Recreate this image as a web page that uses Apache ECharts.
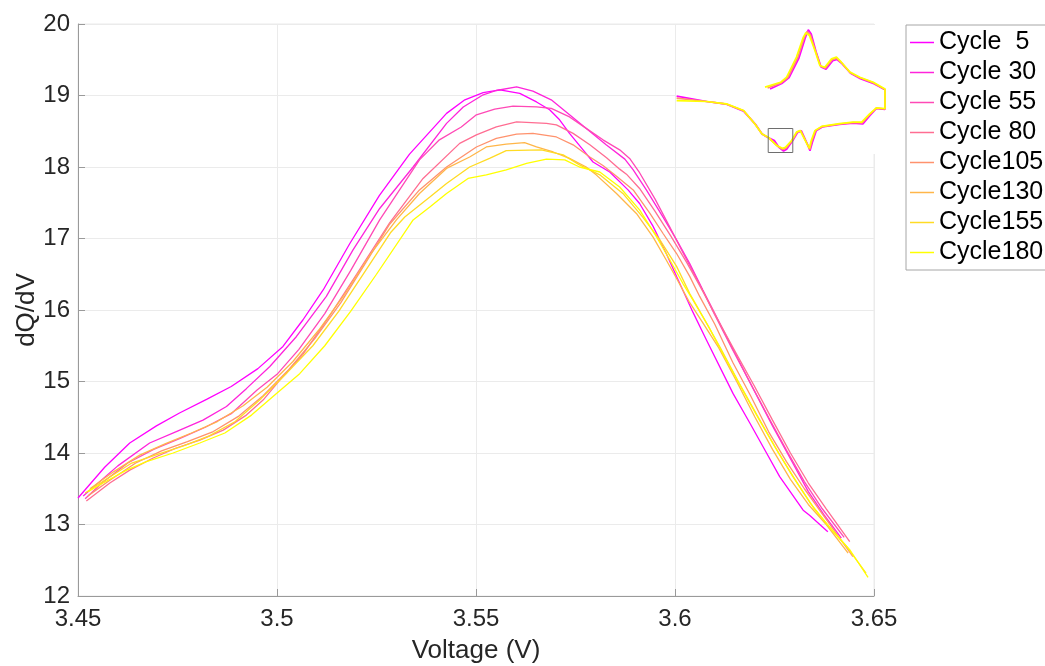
<!DOCTYPE html>
<html>
<head>
<meta charset="utf-8">
<script src="https://cdn.jsdelivr.net/npm/echarts@6/dist/echarts.min.js"></script>
<style>
  html, body { margin: 0; padding: 0; background: #fff; }
  #chart { width: 1045px; height: 666px; }
</style>
</head>
<body>
<div id="chart"></div>
<script>
// Axis ranges of the zoomed discharge-peak view
const voltageRange = [3.45, 3.65];
const dqdvRange = [12, 20];

// Legend labels and line colours (cycle number order)
const cycleNames = ['Cycle  5', 'Cycle 30', 'Cycle 55', 'Cycle 80', 'Cycle105', 'Cycle130', 'Cycle155', 'Cycle180'];
const cycleColors = ['#ff00ff', '#ff24db', '#ff49b6', '#ff6d92', '#ff926d', '#ffb649', '#ffdb24', '#ffff00'];

// Discharge dQ/dV around the main peak, [voltage, dQ/dV]
const cycle5 = [[3.450,13.37],[3.4567,13.80],[3.463,14.14],[3.4697,14.38],[3.4755,14.56],[3.4823,14.75],[3.4885,14.93],[3.4952,15.18],[3.5015,15.49],[3.5065,15.86],[3.5116,16.28],[3.5183,16.93],[3.5257,17.60],[3.5333,18.18],[3.5426,18.75],[3.5472,18.94],[3.5518,19.04],[3.556,19.08],[3.561,19.03],[3.5652,18.91],[3.5685,18.80],[3.571,18.66],[3.5735,18.47],[3.5769,18.24],[3.5794,18.07],[3.5836,17.93],[3.5882,17.68],[3.5911,17.49],[3.5945,17.17],[3.5978,16.79],[3.6004,16.47],[3.6045,15.97],[3.6079,15.58],[3.6121,15.11],[3.6146,14.83],[3.6188,14.42],[3.623,14.00],[3.6263,13.67],[3.6322,13.20],[3.6338,13.13],[3.6384,12.90]];
const cycle30 = [[3.4513,13.40],[3.46,13.82],[3.468,14.14],[3.4747,14.30],[3.4814,14.46],[3.4873,14.65],[3.4923,14.90],[3.4982,15.21],[3.5049,15.63],[3.5124,16.19],[3.5191,16.84],[3.5258,17.42],[3.5342,18.00],[3.5426,18.61],[3.5468,18.84],[3.5518,19.01],[3.5551,19.07],[3.5602,19.12],[3.5643,19.06],[3.5689,18.94],[3.5735,18.73],[3.5781,18.52],[3.5827,18.31],[3.5874,18.11],[3.5895,17.96],[3.5928,17.68],[3.597,17.30],[3.6004,16.98],[3.6037,16.65],[3.607,16.28],[3.6112,15.82],[3.6155,15.35],[3.62,14.86],[3.6245,14.38],[3.629,13.92],[3.6335,13.46],[3.6375,13.13],[3.6418,12.81]];
const cycle55 = [[3.4518,13.36],[3.456,13.58],[3.4625,13.86],[3.469,14.05],[3.4755,14.20],[3.482,14.36],[3.4885,14.55],[3.495,14.88],[3.50,15.10],[3.5055,15.45],[3.512,15.95],[3.5185,16.55],[3.5258,17.26],[3.5358,18.10],[3.5408,18.38],[3.5463,18.56],[3.5501,18.73],[3.5547,18.81],[3.5593,18.85],[3.5652,18.84],[3.5689,18.82],[3.5735,18.70],[3.5777,18.54],[3.5819,18.38],[3.5861,18.24],[3.5886,18.12],[3.5911,17.92],[3.595,17.55],[3.5985,17.18],[3.6022,16.78],[3.606,16.38],[3.61,15.93],[3.6145,15.44],[3.619,14.97],[3.6235,14.50],[3.628,14.04],[3.6325,13.60],[3.637,13.22],[3.6425,12.82]];
const cycle80 = [[3.4521,13.33],[3.458,13.58],[3.463,13.76],[3.4689,13.93],[3.4747,14.07],[3.4806,14.18],[3.4865,14.32],[3.4923,14.53],[3.4965,14.74],[3.5007,15.02],[3.5065,15.38],[3.513,15.90],[3.52,16.50],[3.5283,17.22],[3.5367,17.84],[3.5459,18.33],[3.5501,18.45],[3.5551,18.56],[3.5602,18.63],[3.5677,18.61],[3.5702,18.59],[3.5744,18.47],[3.5786,18.31],[3.5828,18.13],[3.5861,17.97],[3.5878,17.90],[3.5911,17.70],[3.595,17.38],[3.599,17.03],[3.603,16.66],[3.607,16.26],[3.611,15.84],[3.6155,15.38],[3.62,14.93],[3.6245,14.46],[3.629,14.00],[3.6335,13.58],[3.638,13.22],[3.6439,12.76]];
const cycle105 = [[3.4525,13.40],[3.458,13.62],[3.4645,13.86],[3.471,14.03],[3.4775,14.16],[3.484,14.30],[3.4905,14.52],[3.4965,14.80],[3.503,15.17],[3.5095,15.60],[3.516,16.10],[3.5225,16.68],[3.5283,17.20],[3.5358,17.68],[3.5426,18.00],[3.5501,18.28],[3.5551,18.40],[3.5602,18.46],[3.5643,18.47],[3.5702,18.42],[3.5744,18.31],[3.5786,18.14],[3.5819,18.02],[3.5853,17.87],[3.5895,17.68],[3.5937,17.35],[3.597,17.07],[3.6004,16.79],[3.6037,16.47],[3.6062,16.19],[3.61,15.80],[3.6145,15.27],[3.619,14.80],[3.6235,14.30],[3.628,13.88],[3.6325,13.50],[3.637,13.15],[3.6447,12.55]];
const cycle130 = [[3.4530,13.50],[3.459,13.74],[3.4655,13.97],[3.472,14.13],[3.4785,14.28],[3.485,14.44],[3.4915,14.66],[3.4975,14.92],[3.504,15.28],[3.5105,15.72],[3.517,16.22],[3.5235,16.78],[3.53,17.26],[3.5358,17.63],[3.5426,17.98],[3.5484,18.14],[3.5526,18.28],[3.5576,18.32],[3.5622,18.34],[3.5652,18.28],[3.5694,18.21],[3.5735,18.12],[3.5777,18.00],[3.5802,17.89],[3.5853,17.63],[3.5903,17.35],[3.5945,17.02],[3.5978,16.70],[3.6004,16.44],[3.6035,16.12],[3.607,15.82],[3.611,15.47],[3.6155,15.00],[3.62,14.51],[3.6245,14.05],[3.629,13.63],[3.6335,13.28],[3.638,13.00],[3.6435,12.60]];
const cycle155 = [[3.4518,13.44],[3.457,13.63],[3.4635,13.86],[3.47,13.98],[3.4765,14.10],[3.483,14.24],[3.4895,14.44],[3.496,14.76],[3.5025,15.12],[3.509,15.50],[3.5155,15.98],[3.522,16.53],[3.5285,17.08],[3.5321,17.30],[3.5384,17.58],[3.5426,17.77],[3.5484,18.00],[3.5534,18.12],[3.5576,18.23],[3.5664,18.24],[3.5719,18.17],[3.576,18.03],[3.5811,17.89],[3.5869,17.63],[3.5919,17.30],[3.5962,16.98],[3.6004,16.61],[3.6037,16.23],[3.6075,15.86],[3.6115,15.46],[3.616,14.99],[3.6205,14.54],[3.625,14.10],[3.6295,13.68],[3.634,13.30],[3.6385,12.98],[3.643,12.70],[3.648,12.32]];
const cycle180 = [[3.4525,13.46],[3.4563,13.58],[3.4622,13.76],[3.4672,13.88],[3.4739,14.00],[3.4806,14.14],[3.4869,14.28],[3.4936,14.53],[3.4998,14.83],[3.5057,15.11],[3.512,15.50],[3.5185,15.98],[3.525,16.50],[3.5342,17.26],[3.5384,17.44],[3.5426,17.63],[3.548,17.84],[3.5526,17.89],[3.5576,17.96],[3.5627,18.05],[3.5677,18.11],[3.5723,18.10],[3.576,18.00],[3.5811,17.93],[3.5861,17.72],[3.5911,17.40],[3.5953,17.03],[3.5987,16.70],[3.602,16.37],[3.6045,16.14],[3.6085,15.76],[3.6125,15.34],[3.617,14.88],[3.6215,14.43],[3.626,14.00],[3.6305,13.60],[3.635,13.22],[3.6395,12.92],[3.644,12.64],[3.6485,12.26]];

// Full charge/discharge dQ/dV loops for the overview (charge positive, discharge negative)
const overview5 = [[3.465,1.2],[3.56,3.0],[3.62,5.0],[3.70,11.5],[3.75,18.0],[3.776,20.9],[3.80,19.5],[3.84,13.5],[3.88,8.5],[3.92,7.8],[3.975,10.6],[4.01,11.0],[4.05,9.6],[4.12,6.4],[4.20,4.6],[4.31,2.9],[4.40,0.9],[4.40,-5.6],[4.33,-5.3],[4.28,-7.6],[4.22,-10.5],[4.14,-10.2],[4.03,-10.6],[3.89,-11.5],[3.84,-12.8],[3.81,-16.5],[3.79,-19.4],[3.77,-17.4],[3.72,-12.8],[3.69,-13.3],[3.65,-16.0],[3.60,-18.9],[3.575,-19.5],[3.54,-18.4],[3.50,-16.0],[3.44,-14.8],[3.40,-13.8],[3.35,-10.8],[3.25,-6.2],[3.11,-3.9],[2.95,-3.0],[2.705,-1.2]];
const overview105 = [[3.445,1.5],[3.555,3.2],[3.61,5.0],[3.69,11.6],[3.742,18.2],[3.765,20.3],[3.792,19.3],[3.835,13.8],[3.875,8.8],[3.915,8.1],[3.97,10.9],[4.007,11.4],[4.047,9.9],[4.117,6.6],[4.197,4.9],[4.307,3.2],[4.40,1.0],[4.40,-5.5],[4.33,-5.2],[4.277,-7.3],[4.215,-10.1],[4.14,-10.0],[4.03,-10.5],[3.887,-11.4],[3.835,-12.7],[3.805,-16.2],[3.788,-19.0],[3.768,-17.2],[3.715,-12.7],[3.685,-13.2],[3.645,-16.0],[3.595,-18.6],[3.57,-19.0],[3.53,-18.0],[3.45,-15.0],[3.40,-13.8],[3.345,-10.6],[3.25,-6.1],[3.11,-3.85],[2.95,-3.0],[2.705,-1.9]];
const overview180 = [[3.424,1.8],[3.55,3.4],[3.60,5.1],[3.68,11.8],[3.735,18.4],[3.755,19.9],[3.785,19.0],[3.83,14.0],[3.87,9.0],[3.91,8.4],[3.965,11.2],[4.005,11.8],[4.045,10.1],[4.115,6.8],[4.195,5.1],[4.305,3.4],[4.40,1.2],[4.40,-5.4],[4.33,-5.1],[4.275,-7.1],[4.21,-9.9],[4.14,-9.9],[4.03,-10.4],[3.885,-11.3],[3.83,-12.7],[3.80,-16.0],[3.785,-18.6],[3.765,-17.1],[3.71,-12.7],[3.68,-13.2],[3.64,-16.0],[3.59,-18.3],[3.565,-18.6],[3.52,-17.7],[3.45,-14.9],[3.40,-13.8],[3.34,-10.4],[3.25,-6.0],[3.11,-3.8],[2.95,-3.0],[2.705,-2.7]];
const overviewVoltage = [2.7, 4.4];
const overviewDqdv = [-20.5, 22.5];

const cycles = [cycle5, cycle30, cycle55, cycle80, cycle105, cycle130, cycle155, cycle180];
const overviewLoops = [[overview5, 0], [overview105, 4], [overview180, 7]];

const FONT = "'Liberation Sans', Arial, Helvetica, sans-serif";
const TEXT = '#262626';
const AXIS = '#9a9a9a';
const GRIDLINE = '#ebebeb';

const fmt = v => String(+v.toFixed(2));

const series = cycles.map((data, i) => ({
  name: cycleNames[i],
  type: 'line',
  xAxisIndex: 0,
  yAxisIndex: 0,
  data: data,
  symbol: 'none',
  showSymbol: false,
  color: cycleColors[i],
  lineStyle: { width: 1.3, color: cycleColors[i] },
  z: 2,
  silent: true
}));

overviewLoops.forEach(([data, ci], k) => {
  series.push({
    name: 'overview ' + cycleNames[ci],
    type: 'line',
    xAxisIndex: 1,
    yAxisIndex: 1,
    data: data,
    symbol: 'none',
    showSymbol: false,
    lineStyle: { width: 1.7, color: cycleColors[ci] },
    z: 6,
    silent: true,
    markArea: k === 2 ? {
      silent: true,
      z: 8,
      itemStyle: { color: 'rgba(0,0,0,0)', borderColor: '#6e6e6e', borderWidth: 1 },
      data: [[
        { coord: [voltageRange[0], -dqdvRange[1]] },
        { coord: [voltageRange[1], -dqdvRange[0]] }
      ]]
    } : undefined
  });
});

const chart = echarts.init(document.getElementById('chart'), null, { renderer: 'canvas' });
chart.setOption({
  animation: false,
  backgroundColor: '#ffffff',
  textStyle: { fontFamily: FONT },
  grid: [
    { left: 78, top: 24, width: 796, height: 572, show: true, borderColor: GRIDLINE, borderWidth: 1, backgroundColor: 'transparent', containLabel: false, outerBoundsMode: 'none' },
    { left: 676, top: 25, width: 209, height: 129, show: true, backgroundColor: '#ffffff', borderWidth: 0, z: 4, outerBoundsMode: 'none' }
  ],
  legend: {
    orient: 'vertical',
    left: 906,
    top: 25,
    padding: [5, 10, 5, 4],
    icon: 'rect',
    itemWidth: 24,
    itemHeight: 1.5,
    itemGap: 5,
    backgroundColor: '#ffffff',
    borderColor: '#a6a6a6',
    borderWidth: 1,
    data: cycleNames,
    textStyle: { fontSize: 25, color: '#000', fontFamily: FONT },
    selectedMode: false
  },
  xAxis: [
    {
      type: 'value', gridIndex: 0,
      min: voltageRange[0], max: voltageRange[1], interval: 0.05,
      name: 'Voltage (V)', nameLocation: 'middle', nameGap: 42, nameMoveOverlap: false,
      nameTextStyle: { fontSize: 26, color: TEXT, fontFamily: FONT },
      axisLine: { show: true, lineStyle: { color: AXIS, width: 1 } },
      axisTick: { show: true, inside: true, length: 7, lineStyle: { color: AXIS } },
      axisLabel: { fontSize: 24, color: TEXT, margin: 11, formatter: fmt, fontFamily: FONT },
      splitLine: { show: true, lineStyle: { color: GRIDLINE, width: 1 } }
    },
    {
      type: 'value', gridIndex: 1,
      min: overviewVoltage[0], max: overviewVoltage[1],
      show: false, z: 4,
      splitLine: { show: false }
    }
  ],
  yAxis: [
    {
      type: 'value', gridIndex: 0,
      min: dqdvRange[0], max: dqdvRange[1], interval: 1,
      name: 'dQ/dV', nameLocation: 'middle', nameGap: 38, nameRotate: 90, nameMoveOverlap: false,
      nameTextStyle: { fontSize: 26, color: TEXT, fontFamily: FONT },
      axisLine: { show: true, lineStyle: { color: AXIS, width: 1 } },
      axisTick: { show: true, inside: true, length: 7, lineStyle: { color: AXIS } },
      axisLabel: { fontSize: 24, color: TEXT, margin: 8, fontFamily: FONT },
      splitLine: { show: true, lineStyle: { color: GRIDLINE, width: 1 } }
    },
    {
      type: 'value', gridIndex: 1,
      min: overviewDqdv[0], max: overviewDqdv[1],
      show: false, z: 4,
      splitLine: { show: false }
    }
  ],
  series: series
});
</script>
</body>
</html>
